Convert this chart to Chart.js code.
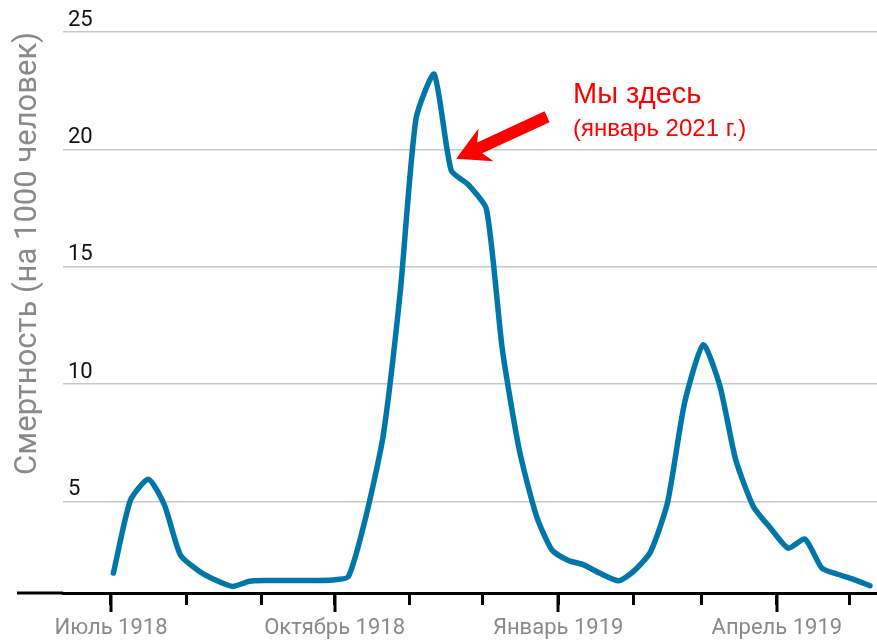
<!DOCTYPE html>
<html>
<head>
<meta charset="utf-8">
<script src="https://cdn.jsdelivr.net/npm/chart.js@4"></script>
<style>
  html, body { margin: 0; padding: 0; background: #fff; }
  #wrap { width: 877px; height: 640px; position: relative; }
</style>
</head>
<body>
<div id="wrap"><canvas id="c"></canvas></div>
<script>
// ---------- data (days since 1 July 1918 -> deaths per 1000) ----------
const days = [1, 8, 15.4, 22, 28.5, 36, 43, 50, 57, 64, 71, 78, 85, 91, 97.7,
  105, 112, 119, 125.5, 133, 140, 147, 154.5, 161, 168, 175, 181.4, 188, 194.5,
  201, 208.8, 215, 222, 229, 236, 243.7, 250.6, 257, 264.3, 271.5, 278.7,
  285.6, 292.5, 299, 305, 312.3];
const rates = [1.95, 5.05, 5.95, 4.85, 2.73, 2.05, 1.65, 1.38, 1.6, 1.63, 1.63,
  1.63, 1.63, 1.65, 1.8, 4.4, 7.8, 13.9, 21.3, 23.2, 19.1, 18.5, 17.45, 11.5,
  7.2, 4.4, 2.94, 2.5, 2.3, 1.95, 1.62, 2.02, 2.85, 4.95, 9.19, 11.68, 9.9,
  6.8, 4.79, 3.85, 3.01, 3.4, 2.16, 1.9, 1.7, 1.41];

// month starts (days) and their labels; '' = minor tick
const monthDays = [0, 31, 62, 92, 123, 153, 184, 215, 243, 274, 304];
const monthLabels = ['Июль 1918', '', '', 'Октябрь 1918', '', '', 'Январь 1919', '', '', 'Апрель 1919', ''];
const yTicks = [5, 10, 15, 20, 25];

const LINE = '#0077a8';
const GREY = '#8a8a8a';

// ---------- decorations: axis extension, long major ticks, annotation ----------
const deco = {
  id: 'deco',
  afterDraw(chart) {
    const { ctx, chartArea: a, scales: { x, y } } = chart;
    ctx.save();
    ctx.strokeStyle = '#000';
    ctx.lineWidth = 3;
    // axis line continues to the left of the plot
    ctx.beginPath(); ctx.moveTo(17, a.bottom); ctx.lineTo(a.left, a.bottom); ctx.stroke();
    // major ticks are longer
    monthDays.forEach((d, i) => {
      if (!monthLabels[i]) return;
      const px = Math.round(x.getPixelForValue(d));
      ctx.beginPath(); ctx.moveTo(px, a.bottom); ctx.lineTo(px, a.bottom + 19); ctx.stroke();
    });

    // annotation arrow: tip points at the curve around mid-November
    const tx = x.getPixelForValue(142), ty = y.getPixelForValue(19.6);
    const ex = tx + 91, ey = ty - 42;                       // tail end
    const len = Math.hypot(ex - tx, ey - ty);
    ctx.fillStyle = '#ff0000';
    ctx.translate(tx, ty); ctx.rotate(Math.atan2(ty - ey, tx - ex));
    ctx.beginPath();
    ctx.moveTo(0, 0);
    ctx.lineTo(-33, -18);
    ctx.lineTo(-26, -6);
    ctx.lineTo(-len, -6);
    ctx.lineTo(-len, 6);
    ctx.lineTo(-26, 6);
    ctx.lineTo(-33, 18);
    ctx.closePath();
    ctx.fill();
    ctx.setTransform(1, 0, 0, 1, 0, 0);

    ctx.textAlign = 'left';
    ctx.textBaseline = 'alphabetic';
    ctx.font = '29px "Liberation Sans", Arial, sans-serif';
    ctx.fillText('Мы здесь', 573, 103);
    ctx.font = '24px "Liberation Sans", Arial, sans-serif';
    ctx.fillText('(январь 2021 г.)', 573, 136);
    ctx.restore();
  }
};

new Chart(document.getElementById('c'), {
  type: 'line',
  data: {
    datasets: [{
      data: days.map((d, i) => ({ x: d, y: rates[i] })),
      borderColor: LINE,
      borderWidth: 5.5,
      tension: 0.2,
      pointRadius: 0,
      borderJoinStyle: 'round',
      borderCapStyle: 'round',
      fill: false
    }]
  },
  options: {
    responsive: true,
    maintainAspectRatio: false,
    animation: false,
    devicePixelRatio: 1,
    layout: { padding: { top: 32, left: 0, right: 0, bottom: 0 } },
    plugins: { legend: { display: false }, tooltip: { enabled: false } },
    scales: {
      x: {
        type: 'linear',
        min: -19.75,
        max: 315.2,
        afterFit: s => { s.height = 47; },
        afterBuildTicks: s => { s.ticks = monthDays.map(v => ({ value: v })); },
        grid: { drawOnChartArea: false, drawTicks: true, tickLength: 12, tickWidth: 3, tickColor: '#000' },
        border: { display: true, color: '#000', width: 3 },
        ticks: {
          autoSkip: false, maxRotation: 0, padding: 10,
          color: GREY,
          font: { family: 'Roboto, sans-serif', size: 22 },
          callback: (v, i) => monthLabels[i]
        }
      },
      y: {
        type: 'linear',
        min: 1.1,
        max: 25,
        afterFit: s => { s.width = 63; },
        afterBuildTicks: s => { s.ticks = yTicks.map(v => ({ value: v })); },
        grid: { color: '#c8c8c8', lineWidth: 1.5, drawTicks: false },
        border: { display: false },
        ticks: {
          mirror: true, padding: 5, labelOffset: -12,
          color: '#111',
          font: { family: 'Roboto, sans-serif', size: 22 }
        },
        title: {
          display: true,
          text: 'Смертность (на 1000 человек)',
          align: 'end',
          color: GREY,
          padding: { top: 10, bottom: 0 },
          font: { family: 'Roboto, sans-serif', size: 31 }
        }
      }
    }
  },
  plugins: [deco]
});
</script>
</body>
</html>
